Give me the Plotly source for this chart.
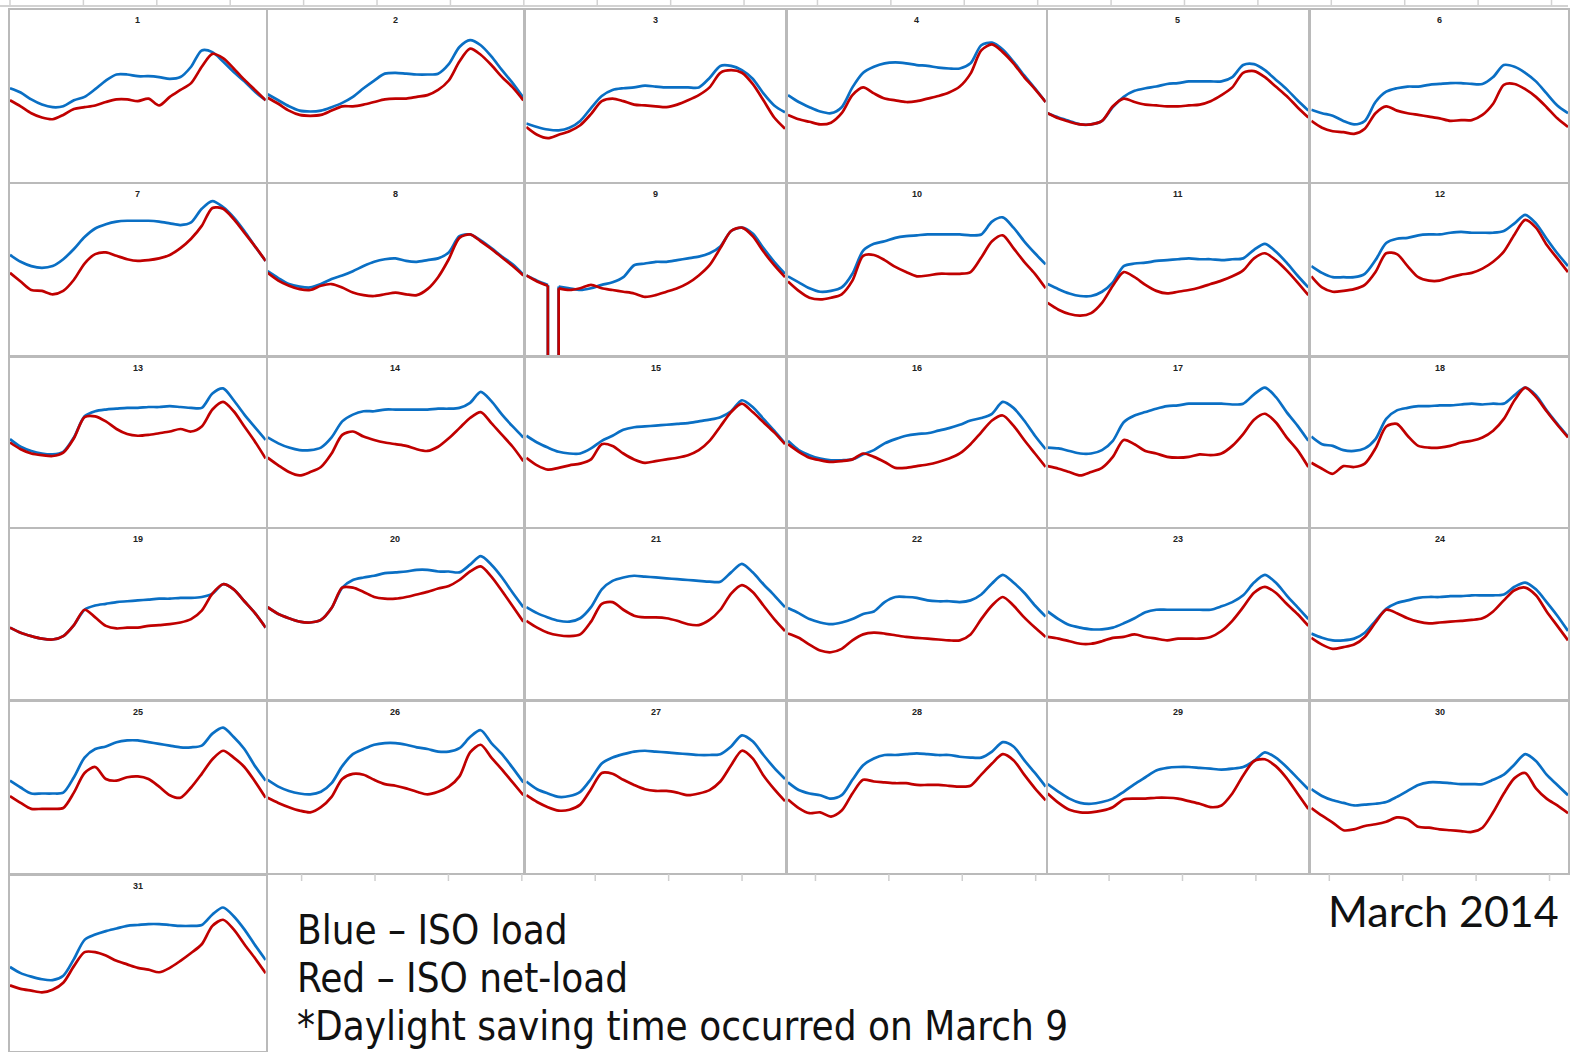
import plotly.graph_objects as go

# ---------------- data (GW, hourly 0..24) ----------------
HOURS = list(range(25))

load_01 = [22.9, 22.4, 21.6, 21.0, 20.7, 20.8, 21.5, 21.9, 22.8, 23.8, 24.5, 24.5, 24.3, 24.3, 24.2, 24.0, 24.2, 25.4, 27.3, 27.1, 26.0, 24.8, 23.7, 22.5, 21.5]
net_01 = [21.5, 20.8, 20.0, 19.5, 19.3, 19.8, 20.5, 20.7, 20.9, 21.3, 21.6, 21.6, 21.4, 21.7, 20.9, 21.9, 22.7, 23.5, 25.4, 26.9, 26.4, 25.2, 23.9, 22.7, 21.5]
load_02 = [22.2, 21.5, 20.8, 20.3, 20.2, 20.3, 20.7, 21.2, 21.9, 22.9, 23.8, 24.6, 24.7, 24.6, 24.5, 24.5, 24.6, 25.7, 27.7, 28.5, 27.9, 26.6, 25.0, 23.5, 21.8]
net_02 = [21.8, 21.1, 20.3, 19.8, 19.7, 19.8, 20.3, 20.8, 20.8, 21.0, 21.3, 21.6, 21.7, 21.7, 21.9, 22.1, 22.7, 23.8, 26.0, 27.5, 26.8, 25.6, 24.2, 23.0, 21.5]
load_03 = [18.8, 18.4, 18.1, 18.0, 18.3, 19.1, 20.6, 22.0, 22.7, 22.9, 23.0, 23.2, 23.1, 23.0, 23.0, 23.0, 23.0, 24.1, 25.5, 25.5, 25.0, 24.0, 22.3, 20.9, 20.1]
net_03 = [18.4, 17.5, 17.1, 17.5, 17.9, 18.6, 19.9, 21.4, 21.7, 21.4, 21.0, 20.9, 20.8, 20.7, 21.0, 21.5, 22.1, 23.0, 24.7, 25.0, 24.7, 23.4, 21.5, 19.5, 18.2]
load_04 = [22.1, 21.3, 20.7, 20.2, 20.0, 20.7, 23.0, 24.7, 25.4, 25.8, 25.9, 25.8, 25.6, 25.5, 25.3, 25.2, 25.2, 25.8, 27.9, 28.2, 27.4, 26.0, 24.4, 22.9, 21.3]
net_04 = [19.8, 19.3, 19.0, 18.7, 18.9, 20.0, 22.1, 23.0, 22.3, 21.7, 21.5, 21.3, 21.4, 21.7, 22.0, 22.4, 23.1, 24.6, 27.3, 28.0, 27.1, 25.8, 24.2, 22.8, 21.3]
load_05 = [20.0, 19.5, 19.1, 18.7, 18.7, 19.1, 20.7, 21.9, 22.6, 22.9, 23.1, 23.4, 23.5, 23.7, 23.7, 23.7, 23.7, 24.2, 25.6, 25.7, 25.0, 23.9, 22.8, 21.5, 20.3]
net_05 = [20.0, 19.4, 19.0, 18.7, 18.7, 19.1, 20.8, 21.7, 21.3, 21.0, 20.9, 20.8, 20.8, 20.9, 21.0, 21.4, 22.1, 23.0, 24.7, 24.9, 24.2, 23.1, 22.0, 20.7, 19.5]
load_06 = [20.4, 20.0, 19.7, 19.1, 18.7, 19.1, 21.3, 22.5, 22.9, 23.1, 23.1, 23.3, 23.4, 23.5, 23.5, 23.4, 23.4, 24.2, 25.6, 25.4, 24.7, 23.7, 22.3, 20.9, 20.0]
net_06 = [19.1, 18.3, 17.9, 17.8, 17.6, 18.2, 20.0, 20.8, 20.3, 20.0, 19.8, 19.6, 19.4, 19.1, 19.2, 19.2, 19.8, 21.1, 23.3, 23.4, 22.8, 21.9, 20.7, 19.4, 18.4]
load_07 = [23.7, 22.9, 22.4, 22.2, 22.4, 23.2, 24.4, 25.8, 26.8, 27.3, 27.6, 27.7, 27.7, 27.7, 27.6, 27.4, 27.2, 27.5, 29.1, 30.0, 29.3, 28.1, 26.5, 24.7, 23.0]
net_07 = [21.6, 20.6, 19.6, 19.5, 19.1, 19.5, 20.8, 22.7, 23.8, 24.0, 23.6, 23.2, 23.0, 23.1, 23.3, 23.7, 24.5, 25.6, 27.1, 29.2, 29.1, 27.9, 26.3, 24.7, 23.0]
load_08 = [21.8, 21.0, 20.3, 20.0, 19.9, 20.3, 20.9, 21.3, 21.8, 22.4, 22.9, 23.2, 23.3, 23.0, 22.9, 23.1, 23.3, 24.0, 25.9, 26.1, 25.4, 24.5, 23.5, 22.6, 21.4]
net_08 = [21.6, 20.7, 20.1, 19.7, 19.6, 20.1, 20.3, 19.9, 19.3, 19.0, 18.9, 19.1, 19.3, 19.1, 19.0, 19.7, 21.1, 23.2, 25.7, 26.1, 25.3, 24.4, 23.4, 22.4, 21.3]
load_09 = [21.3, 20.7, 20.2, 20.0, 19.8, 19.6, 19.8, 20.2, 20.5, 21.1, 22.5, 22.7, 22.9, 22.9, 23.1, 23.3, 23.5, 23.9, 24.7, 26.5, 26.9, 26.2, 24.5, 22.9, 21.5]
net_09 = [21.3, 20.6, 20.1, 19.8, 19.6, 19.8, 20.2, 19.8, 19.6, 19.4, 19.2, 18.8, 19.0, 19.4, 19.8, 20.4, 21.3, 22.5, 24.5, 26.5, 26.9, 25.9, 24.1, 22.5, 21.1]
load_10 = [21.2, 20.5, 19.8, 19.4, 19.5, 19.9, 21.5, 24.2, 25.0, 25.3, 25.7, 25.9, 26.0, 26.1, 26.1, 26.1, 26.1, 26.0, 26.1, 27.6, 28.1, 26.9, 25.3, 23.9, 22.6]
net_10 = [20.6, 19.5, 18.7, 18.5, 18.7, 19.1, 20.7, 23.6, 23.7, 23.1, 22.3, 21.7, 21.2, 21.3, 21.5, 21.5, 21.5, 21.7, 23.4, 25.3, 26.0, 24.5, 22.9, 21.5, 19.8]
load_11 = [20.3, 19.7, 19.2, 18.9, 18.9, 19.4, 20.5, 22.4, 22.7, 22.8, 23.0, 23.1, 23.2, 23.3, 23.2, 23.2, 23.1, 23.2, 23.3, 24.3, 25.0, 24.1, 22.8, 21.3, 19.9]
net_11 = [18.1, 17.3, 16.8, 16.6, 16.9, 18.1, 20.1, 21.7, 21.1, 20.2, 19.5, 19.2, 19.4, 19.6, 19.9, 20.3, 20.7, 21.2, 21.9, 23.3, 23.9, 23.1, 21.9, 20.5, 19.0]
load_12 = [22.4, 21.6, 21.1, 21.1, 21.1, 21.5, 23.1, 25.1, 25.6, 25.7, 26.0, 26.1, 26.1, 26.3, 26.4, 26.3, 26.3, 26.3, 26.5, 27.4, 28.4, 27.4, 25.6, 23.9, 22.4]
net_12 = [21.2, 19.9, 19.4, 19.5, 19.7, 20.2, 21.7, 23.9, 23.8, 22.4, 21.1, 20.7, 20.7, 21.1, 21.4, 21.6, 22.1, 22.9, 24.1, 26.1, 27.8, 26.9, 24.9, 23.3, 21.7]
load_13 = [22.4, 21.5, 21.0, 20.7, 20.6, 20.9, 22.6, 25.1, 25.7, 25.9, 26.0, 26.1, 26.1, 26.2, 26.2, 26.3, 26.2, 26.1, 26.1, 27.8, 28.4, 27.0, 25.3, 23.8, 22.3]
net_13 = [22.0, 21.2, 20.7, 20.5, 20.4, 20.8, 22.5, 25.0, 25.1, 24.5, 23.6, 23.0, 22.8, 22.9, 23.1, 23.3, 23.6, 23.3, 23.9, 25.9, 26.8, 25.7, 23.9, 22.1, 20.1]
load_14 = [22.6, 21.9, 21.4, 21.1, 21.1, 21.4, 22.6, 24.5, 25.3, 25.7, 25.7, 25.9, 25.9, 25.9, 25.9, 25.9, 26.0, 26.0, 26.1, 26.7, 28.0, 26.9, 25.3, 23.9, 22.6]
net_14 = [20.2, 19.3, 18.5, 18.1, 18.5, 19.1, 20.7, 22.9, 23.3, 22.7, 22.3, 22.0, 21.8, 21.6, 21.2, 21.0, 21.5, 22.5, 23.7, 24.9, 25.6, 24.3, 22.9, 21.5, 19.8]
load_15 = [22.8, 22.0, 21.4, 20.9, 20.7, 20.7, 21.3, 22.2, 22.8, 23.5, 23.8, 23.9, 24.0, 24.1, 24.2, 24.3, 24.5, 24.7, 25.0, 25.7, 27.0, 26.2, 24.8, 23.4, 21.9]
net_15 = [20.2, 19.3, 18.8, 19.0, 19.3, 19.5, 20.0, 21.8, 21.6, 20.7, 20.0, 19.6, 19.8, 20.0, 20.2, 20.5, 21.1, 22.2, 23.9, 25.6, 26.6, 25.6, 24.4, 23.2, 21.8]
load_16 = [22.2, 21.1, 20.5, 20.1, 19.9, 19.9, 20.0, 20.6, 21.1, 21.9, 22.4, 22.8, 23.0, 23.1, 23.4, 23.7, 24.1, 24.6, 24.9, 25.4, 26.8, 26.1, 24.6, 22.8, 21.2]
net_16 = [21.8, 20.9, 20.2, 19.9, 19.7, 19.8, 20.0, 20.7, 20.3, 19.7, 19.0, 19.0, 19.2, 19.4, 19.7, 20.1, 20.7, 21.8, 23.2, 24.6, 25.2, 24.0, 22.3, 20.7, 19.1]
load_17 = [21.4, 21.3, 21.0, 20.7, 20.7, 21.1, 22.2, 24.4, 25.2, 25.6, 26.0, 26.3, 26.4, 26.6, 26.6, 26.6, 26.6, 26.5, 26.6, 27.7, 28.5, 27.4, 25.6, 24.0, 22.2]
net_17 = [19.2, 18.9, 18.5, 18.1, 18.5, 19.0, 20.3, 22.3, 21.8, 21.0, 20.7, 20.3, 20.2, 20.3, 20.6, 20.5, 20.7, 21.6, 23.0, 24.7, 25.4, 24.4, 22.6, 21.1, 19.1]
load_18 = [22.7, 21.8, 21.6, 21.1, 21.0, 21.3, 22.4, 24.8, 25.8, 26.1, 26.3, 26.3, 26.4, 26.4, 26.5, 26.6, 26.5, 26.6, 26.6, 27.6, 28.5, 27.6, 25.8, 24.2, 22.7]
net_18 = [19.6, 18.9, 18.3, 19.2, 19.1, 19.5, 21.3, 23.9, 24.2, 22.8, 21.6, 21.4, 21.4, 21.6, 22.0, 22.2, 22.6, 23.4, 24.8, 27.0, 28.5, 27.4, 25.7, 24.1, 22.6]
load_19 = [20.4, 19.8, 19.4, 19.1, 19.0, 19.4, 20.7, 22.5, 23.0, 23.2, 23.4, 23.5, 23.6, 23.7, 23.8, 23.8, 23.9, 23.9, 24.0, 24.4, 25.5, 24.9, 23.5, 22.1, 20.4]
net_19 = [20.4, 19.8, 19.4, 19.1, 19.0, 19.4, 20.7, 22.5, 21.6, 20.6, 20.3, 20.4, 20.4, 20.6, 20.7, 20.8, 21.0, 21.4, 22.4, 24.4, 25.5, 24.9, 23.5, 22.1, 20.4]
load_20 = [22.8, 22.0, 21.5, 21.1, 21.0, 21.3, 22.7, 25.1, 26.0, 26.3, 26.5, 26.8, 26.9, 27.0, 27.2, 27.2, 27.0, 27.0, 26.9, 27.8, 28.8, 27.8, 26.3, 24.5, 22.8]
net_20 = [22.8, 22.0, 21.5, 21.1, 21.0, 21.3, 22.7, 25.1, 25.1, 24.6, 24.0, 23.8, 23.8, 24.0, 24.3, 24.6, 25.0, 25.3, 26.0, 27.0, 27.6, 26.4, 24.7, 22.9, 21.1]
load_21 = [22.8, 22.1, 21.6, 21.2, 21.1, 21.5, 22.8, 24.9, 25.9, 26.3, 26.5, 26.4, 26.3, 26.2, 26.1, 26.0, 25.9, 25.8, 25.8, 26.9, 27.9, 26.9, 25.5, 24.2, 22.8]
net_21 = [21.2, 20.4, 19.8, 19.5, 19.4, 19.6, 21.1, 23.2, 23.4, 22.5, 21.8, 21.6, 21.6, 21.5, 21.2, 20.8, 20.7, 21.3, 22.5, 24.4, 25.4, 24.6, 23.0, 21.4, 20.0]
load_22 = [22.7, 22.1, 21.4, 21.0, 20.8, 21.0, 21.4, 22.0, 22.3, 23.4, 24.0, 24.0, 23.9, 23.6, 23.5, 23.5, 23.4, 23.6, 24.3, 25.6, 26.6, 25.7, 24.5, 23.0, 21.7]
net_22 = [19.7, 19.2, 18.4, 17.7, 17.5, 17.9, 18.9, 19.6, 19.8, 19.7, 19.5, 19.3, 19.2, 19.1, 19.0, 18.9, 18.9, 19.6, 21.4, 23.0, 24.0, 23.0, 21.6, 20.4, 19.3]
load_23 = [22.3, 21.4, 20.7, 20.4, 20.2, 20.2, 20.4, 20.9, 21.5, 22.2, 22.5, 22.5, 22.5, 22.5, 22.5, 22.5, 22.9, 23.4, 24.2, 25.7, 26.6, 25.7, 24.2, 22.8, 21.4]
net_23 = [19.3, 19.1, 18.8, 18.5, 18.5, 18.8, 19.2, 19.3, 19.6, 19.3, 19.1, 18.9, 19.1, 19.1, 19.1, 19.3, 20.0, 21.2, 22.8, 24.5, 25.2, 24.5, 23.2, 22.0, 20.6]
load_24 = [19.7, 19.2, 18.9, 18.9, 19.1, 19.8, 21.2, 22.6, 23.3, 23.6, 23.9, 24.0, 24.0, 24.1, 24.1, 24.2, 24.2, 24.2, 24.3, 25.2, 25.7, 24.9, 23.4, 21.8, 20.0]
net_24 = [19.2, 18.4, 17.9, 18.1, 18.4, 19.3, 21.0, 22.5, 22.1, 21.5, 21.1, 20.9, 21.0, 21.1, 21.2, 21.3, 21.5, 22.3, 23.6, 24.8, 25.1, 24.2, 22.3, 20.6, 18.9]
load_25 = [22.8, 22.0, 21.3, 21.3, 21.3, 21.4, 23.2, 25.5, 26.5, 26.8, 27.3, 27.5, 27.5, 27.3, 27.1, 26.9, 26.7, 26.7, 26.9, 28.3, 29.0, 27.9, 26.5, 24.5, 22.8]
net_25 = [21.0, 20.2, 19.5, 19.5, 19.5, 19.6, 21.4, 23.7, 24.4, 23.0, 22.8, 23.2, 23.3, 23.0, 22.1, 21.1, 20.8, 22.0, 23.6, 25.3, 26.3, 25.5, 24.4, 22.7, 20.8]
load_26 = [22.9, 22.1, 21.6, 21.3, 21.2, 21.5, 22.5, 24.5, 25.9, 26.5, 27.0, 27.2, 27.2, 27.0, 26.7, 26.5, 26.2, 26.2, 26.6, 27.9, 28.7, 27.2, 25.9, 24.3, 22.6]
net_26 = [20.8, 20.2, 19.7, 19.3, 19.1, 19.7, 20.9, 23.0, 23.6, 23.5, 22.9, 22.4, 22.2, 21.9, 21.5, 21.2, 21.5, 22.1, 23.3, 26.1, 27.0, 25.5, 24.1, 22.6, 21.1]
load_27 = [22.7, 21.8, 21.3, 20.9, 21.0, 21.5, 23.0, 24.8, 25.5, 25.9, 26.2, 26.3, 26.2, 26.1, 26.0, 25.9, 25.8, 25.8, 25.9, 26.8, 28.1, 27.4, 25.8, 24.3, 23.0]
net_27 = [21.1, 20.3, 19.7, 19.3, 19.4, 20.0, 21.8, 23.7, 23.6, 22.9, 22.3, 21.8, 21.6, 21.6, 21.4, 21.1, 21.3, 21.7, 22.7, 24.6, 26.3, 25.4, 23.4, 21.8, 20.4]
load_28 = [22.6, 21.7, 21.3, 21.1, 20.7, 21.1, 22.9, 24.6, 25.4, 25.8, 25.8, 25.9, 26.0, 25.9, 25.8, 25.8, 25.6, 25.5, 25.5, 26.2, 27.3, 26.8, 25.2, 23.7, 22.1]
net_28 = [20.6, 19.6, 19.0, 19.1, 18.6, 19.3, 21.3, 22.9, 22.7, 22.6, 22.5, 22.5, 22.3, 22.3, 22.3, 22.2, 22.1, 22.2, 23.5, 24.8, 25.9, 25.2, 23.5, 21.9, 20.5]
load_29 = [22.4, 21.5, 20.7, 20.2, 20.1, 20.3, 20.7, 21.5, 22.4, 23.2, 24.0, 24.3, 24.4, 24.4, 24.3, 24.2, 24.1, 24.2, 24.4, 25.1, 26.1, 25.5, 24.4, 23.1, 21.8]
net_29 = [21.3, 20.2, 19.4, 19.1, 19.1, 19.3, 19.7, 20.6, 20.7, 20.7, 20.8, 20.8, 20.7, 20.4, 20.1, 19.7, 19.9, 21.3, 23.4, 25.1, 25.3, 24.5, 23.1, 21.3, 19.5]
load_30 = [21.8, 21.0, 20.5, 20.2, 19.9, 20.0, 20.1, 20.3, 20.9, 21.6, 22.3, 22.6, 22.6, 22.5, 22.4, 22.4, 22.4, 22.9, 23.5, 24.7, 25.9, 25.1, 23.5, 22.3, 21.1]
net_30 = [19.6, 18.7, 17.9, 17.0, 17.1, 17.5, 17.7, 18.0, 18.5, 18.3, 17.4, 17.3, 17.1, 17.0, 16.9, 16.8, 17.3, 19.1, 21.3, 23.1, 23.7, 21.9, 20.7, 19.9, 19.0]
load_31 = [21.6, 20.9, 20.5, 20.2, 20.1, 20.6, 22.5, 24.7, 25.3, 25.7, 26.0, 26.3, 26.4, 26.5, 26.5, 26.4, 26.3, 26.3, 26.4, 27.6, 28.4, 27.4, 25.9, 24.1, 22.4]
net_31 = [19.5, 19.1, 18.9, 18.7, 19.0, 19.8, 21.7, 23.3, 23.3, 22.9, 22.3, 21.9, 21.5, 21.3, 21.0, 21.5, 22.3, 23.2, 24.2, 26.3, 27.0, 25.9, 24.2, 22.6, 20.9]

DAY_LABELS = [str(d) for d in range(1, 32)]
LOAD = [load_01, load_02, load_03, load_04, load_05, load_06, load_07, load_08,
        load_09, load_10, load_11, load_12, load_13, load_14, load_15, load_16,
        load_17, load_18, load_19, load_20, load_21, load_22, load_23, load_24,
        load_25, load_26, load_27, load_28, load_29, load_30, load_31]
NET = [net_01, net_02, net_03, net_04, net_05, net_06, net_07, net_08,
       net_09, net_10, net_11, net_12, net_13, net_14, net_15, net_16,
       net_17, net_18, net_19, net_20, net_21, net_22, net_23, net_24,
       net_25, net_26, net_27, net_28, net_29, net_30, net_31]

DST_DAY = 9            # March 9: hours 2-3 missing
DST_GAP = [2, 3]       # hours bounding the missing interval
DST_FLOOR = 0.0        # recorded value in the missing interval

LEGEND_LINES = ["Blue \u2013 ISO load", "Red \u2013 ISO net-load",
                "*Daylight saving time occurred on March 9"]
TITLE = "March 2014"

# ---------------- layout / style ----------------
W, H = 1570, 1052
COLS = [(10, 266), (268, 524), (527, 786), (789, 1047), (1049, 1310), (1313, 1570)]
ROWS = [(10, 182), (184, 355), (358, 527), (529, 699), (702, 873), (876, 1051)]
Y_RANGE = [12, 32]
BLUE = "#0a6fc4"
RED = "#c00000"
LW = 2.7
BORDER = "#bababa"

fig = go.Figure()
layout = dict(width=W, height=H, autosize=False,
              margin=dict(l=0, r=0, t=0, b=0, pad=0),
              paper_bgcolor="white", plot_bgcolor="white",
              showlegend=False)
annotations = []
shapes = []


def px_x(x):
    return x / W


def px_y(y):
    return 1 - y / H


for i in range(31):
    n = i + 1
    r, c = divmod(i, 6)
    x0, x1 = COLS[c]
    y0, y1 = ROWS[r]
    sfx = "" if n == 1 else str(n)
    layout["xaxis" + sfx] = dict(domain=[px_x(x0), px_x(min(x1, W))], range=[0, 24],
                                 anchor="y" + sfx, showgrid=False, zeroline=False,
                                 showticklabels=False, ticks="", showline=True,
                                 mirror=True, linecolor=BORDER, linewidth=1.5,
                                 fixedrange=True)
    layout["yaxis" + sfx] = dict(domain=[px_y(y1), px_y(y0)], range=Y_RANGE,
                                 anchor="x" + sfx, showgrid=False, zeroline=False,
                                 showticklabels=False, ticks="", showline=True,
                                 mirror=True, linecolor=BORDER, linewidth=1.5,
                                 fixedrange=True)
    xa, ya = "x" + sfx, "y" + sfx
    for series, color in ((LOAD[i], BLUE), (NET[i], RED)):
        if n == DST_DAY:
            a, b = DST_GAP
            segs = [(HOURS[:a + 1], series[:a + 1]), (HOURS[b:], series[b:])]
            for hx, hy in segs:
                fig.add_trace(go.Scatter(x=hx, y=hy, mode="lines", xaxis=xa, yaxis=ya,
                                         line=dict(color=color, width=LW, shape="spline",
                                                   smoothing=0.8), hoverinfo="skip"))
            fig.add_trace(go.Scatter(x=[a, a, b, b],
                                     y=[series[a], DST_FLOOR, DST_FLOOR, series[b]],
                                     mode="lines", xaxis=xa, yaxis=ya,
                                     line=dict(color=color, width=LW), hoverinfo="skip"))
        else:
            fig.add_trace(go.Scatter(x=HOURS, y=series, mode="lines", xaxis=xa, yaxis=ya,
                                     line=dict(color=color, width=LW, shape="spline",
                                               smoothing=0.8), hoverinfo="skip"))
    annotations.append(dict(text="<b>" + DAY_LABELS[i] + "</b>", xref="paper", yref="paper",
                            x=px_x((x0 + x1) / 2), y=px_y(y0 + 10), showarrow=False,
                            xanchor="center", yanchor="middle",
                            font=dict(family="Liberation Sans", size=9, color="#222222")))

# decorative tick strips from neighbouring slide panels
TICK_STEP = 73.5
shapes.append(dict(type="line", xref="paper", yref="paper", x0=0, x1=1,
                   y0=px_y(6), y1=px_y(6), line=dict(color="#d2d2d2", width=2)))
k = 0
while 10 + k * TICK_STEP < W:
    xx = 10 + k * TICK_STEP
    shapes.append(dict(type="line", xref="paper", yref="paper", x0=px_x(xx), x1=px_x(xx),
                       y0=px_y(0), y1=px_y(6), line=dict(color="#d2d2d2", width=1.5)))
    k += 1
k = 0
while 302 + k * TICK_STEP < W:
    xx = 302 + k * TICK_STEP
    shapes.append(dict(type="line", xref="paper", yref="paper", x0=px_x(xx), x1=px_x(xx),
                       y0=px_y(874), y1=px_y(881), line=dict(color="#cfcfcf", width=1.5)))
    k += 1

# legend text block
for j, (txt, yc) in enumerate(zip(LEGEND_LINES, [930, 978, 1026])):
    annotations.append(dict(text=txt, xref="paper", yref="paper", x=px_x(295), y=px_y(yc),
                            xanchor="left", yanchor="middle", showarrow=False,
                            font=dict(family="DejaVu Sans Condensed", size=40, color="#111111")))
annotations.append(dict(text=TITLE, xref="paper", yref="paper", x=px_x(1563), y=px_y(910),
                        xanchor="right", yanchor="middle", showarrow=False,
                        font=dict(family="Lato", size=43, color="#111111")))

layout["annotations"] = annotations
layout["shapes"] = shapes
fig.update_layout(**layout)
fig.write_html("out.html", config={"displayModeBar": False},
               post_script="document.body.style.margin='0';document.body.style.padding='0';")
